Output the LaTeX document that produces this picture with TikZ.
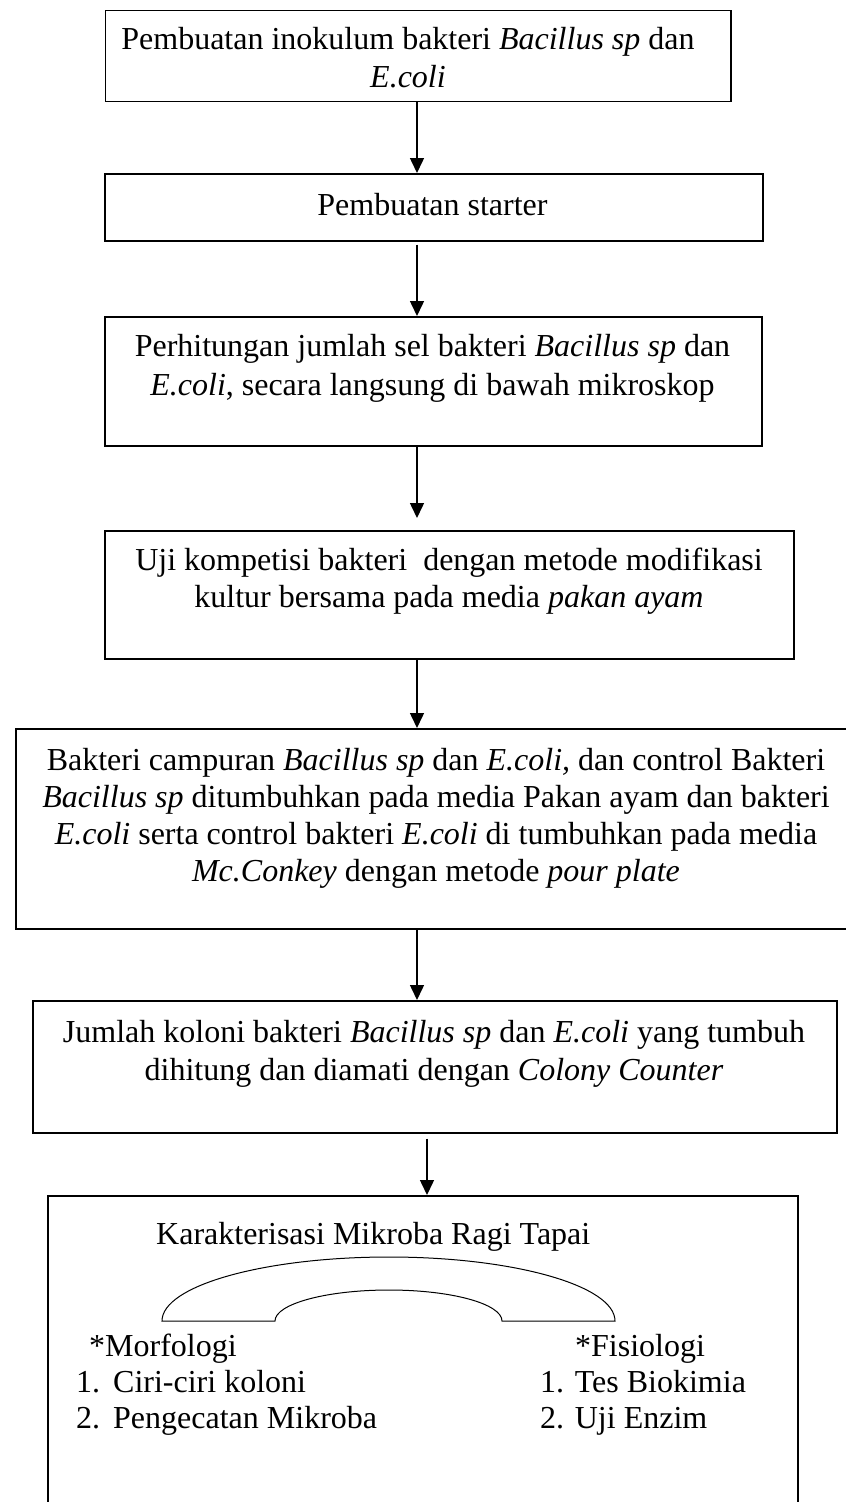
\documentclass[tikz,border=0pt]{standalone}
\usepackage{fontspec}
\setmainfont{Liberation Serif}
\usetikzlibrary{arrows.meta}
\begin{document}
\begin{tikzpicture}[x=1pt,y=-1pt,
  box/.style={draw, line width=1.5pt, inner sep=0pt, anchor=north west},
  txt/.style={anchor=base, inner sep=0pt},
  ltxt/.style={anchor=base west, inner sep=0pt},
  arr/.style={draw, line width=1.5pt, -{Triangle[length=15pt,width=14pt]}},
  every node/.append style={font=\fontsize{32}{38}\selectfont}]
\useasboundingbox (0,0) rectangle (846,1502);
\clip (0,0) rectangle (846,1502);

% boxes
\node[box, minimum width=625.4pt, minimum height=91.2pt] (b1) at (104.6,9.5) {};
\node[box, minimum width=658pt, minimum height=67pt] (b2) at (104,173) {};
\node[box, minimum width=657pt, minimum height=129pt] (b3) at (104,316) {};
\node[box, minimum width=689pt, minimum height=128pt] (b4) at (104,530) {};
\node[box, minimum width=844pt, minimum height=200pt] (b5) at (15,728) {};
\node[box, minimum width=804pt, minimum height=132pt] (b6) at (32,1000) {};
\node[box, minimum width=750pt, minimum height=330pt] (b7) at (47,1195) {};

% texts
\node[txt] (t1) at (408,49) {\begin{tabular}[t]{@{}c@{}}Pembuatan inokulum bakteri \textit{Bacillus sp} dan\\ \textit{E.coli}\end{tabular}};
\node[txt] (t2) at (432.5,215) {Pembuatan starter};
\node[txt, font=\fontsize{32}{39}\selectfont] (t3) at (432.5,356) {\begin{tabular}[t]{@{}c@{}}Perhitungan jumlah sel bakteri \textit{Bacillus sp} dan\\ \textit{E.coli}, secara langsung di bawah mikroskop\end{tabular}};
\node[txt, font=\fontsize{32}{37}\selectfont] (t4) at (449,570) {\begin{tabular}[t]{@{}c@{}}Uji kompetisi bakteri~ dengan metode modifikasi\\ kultur bersama pada media \textit{pakan ayam}\end{tabular}};
\node[txt, font=\fontsize{32}{37}\selectfont] (t5) at (436,770) {\begin{tabular}[t]{@{}c@{}}Bakteri campuran \textit{Bacillus sp} dan \textit{E.coli,} dan control Bakteri\\ \textit{Bacillus sp} ditumbuhkan pada media Pakan ayam dan bakteri\\ \textit{E.coli} serta control bakteri \textit{E.coli} di tumbuhkan pada media\\ \textit{Mc.Conkey} dengan metode \textit{pour plate}\end{tabular}};
\node[txt] (t6) at (434,1042) {\begin{tabular}[t]{@{}c@{}}Jumlah koloni bakteri \textit{Bacillus sp} dan \textit{E.coli} yang tumbuh\\ dihitung dan diamati dengan \textit{Colony Counter}\end{tabular}};

\node[ltxt] (k1) at (156,1244) {Karakterisasi Mikroba Ragi Tapai};
\node[ltxt] (k2) at (89,1356) {*Morfologi};
\node[ltxt] (k3) at (76,1392) {\makebox[37pt][l]{1.}Ciri-ciri koloni};
\node[ltxt] (k4) at (76,1428) {\makebox[37pt][l]{2.}Pengecatan Mikroba};
\node[ltxt] (k5) at (575,1356) {*Fisiologi};
\node[ltxt] (k6) at (540,1392) {1. Tes Biokimia};
\node[ltxt] (k7) at (540,1428) {2. Uji Enzim};

% bridge shape
\draw[line width=1pt] (162,1321) .. controls (162,1285.7) and (263.9,1257) .. (389,1257)
  .. controls (513.8,1257) and (615,1285.7) .. (615,1321) -- (502,1321)
  .. controls (502,1303.9) and (451.7,1290) .. (389,1290)
  .. controls (326.3,1290) and (275,1303.9) .. (275,1321) -- cycle;

% arrows
\coordinate (ax) at (417,0);
\coordinate (ay) at (427,0);
\draw[arr] (ax |- b1.south) -- (ax |- b2.north);
\draw[arr, shorten <=3pt] (ax |- b2.south) -- (ax |- b3.north);
\draw[arr, shorten >=12pt] (ax |- b3.south) -- (ax |- b4.north);
\draw[arr] (ax |- b4.south) -- (ax |- b5.north);
\draw[arr] (ax |- b5.south) -- (ax |- b6.north);
\draw[arr, shorten <=5pt] (ay |- b6.south) -- (ay |- b7.north);
\end{tikzpicture}
\end{document}
